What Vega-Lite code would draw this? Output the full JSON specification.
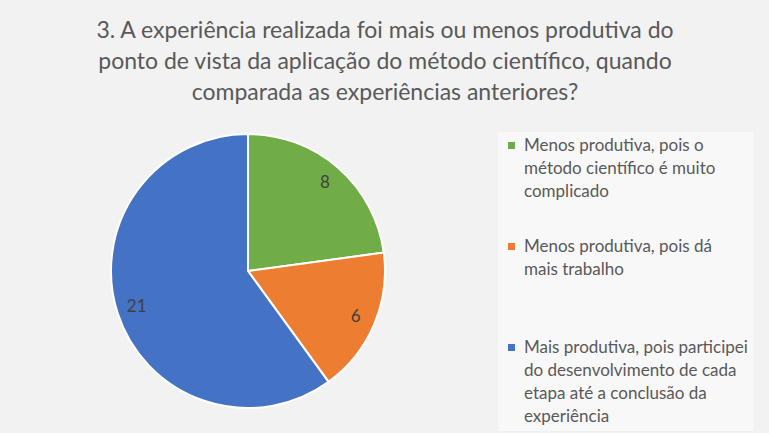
{
  "$schema": "https://vega.github.io/schema/vega-lite/v6.json",
  "width": 276,
  "height": 274,
  "autosize": "none",
  "padding": {"top": 134, "left": 110, "right": 383, "bottom": 25},
  "background": "#f2f2f2",
  "view": {"stroke": null},
  "title": {
    "text": ["3. A experiência realizada foi mais ou menos produtiva do", "ponto de vista da aplicação do método científico, quando", "comparada as experiências anteriores?"],
    "font": "Lato",
    "fontSize": 23,
    "fontWeight": "normal",
    "color": "#595959",
    "anchor": "middle",
    "dx": 137,
    "offset": 25,
    "lineHeight": 31
  },
  "data": {
    "values": [
      {"categoria": "Menos produtiva, pois o\nmétodo científico é muito\ncomplicado", "valor": 8, "ordem": 1},
      {"categoria": "Menos produtiva, pois dá\nmais trabalho", "valor": 6, "ordem": 2},
      {"categoria": "Mais produtiva, pois participei\ndo desenvolvimento de cada\netapa até a conclusão da\nexperiência", "valor": 21, "ordem": 3}
    ]
  },
  "layer": [
    {
      "mark": {"type": "arc", "outerRadius": 137, "stroke": "white", "strokeWidth": 2},
      "encoding": {
        "theta": {"field": "valor", "type": "quantitative", "stack": true},
        "order": {"field": "ordem", "type": "quantitative"},
        "color": {
          "field": "categoria",
          "type": "nominal",
          "sort": null,
          "scale": {
            "domain": ["Menos produtiva, pois o\nmétodo científico é muito\ncomplicado", "Menos produtiva, pois dá\nmais trabalho", "Mais produtiva, pois participei\ndo desenvolvimento de cada\netapa até a conclusão da\nexperiência"],
            "range": ["#70ad47", "#ed7d31", "#4472c4"]
          },
          "legend": {
            "title": null,
            "orient": "none",
            "legendX": 387,
            "legendY": -3,
            "fillColor": "#f8f8f8",
            "strokeColor": "#f0f0f0",
            "padding": 6,
            "symbolType": "square",
            "symbolSize": 49,
            "symbolStrokeWidth": 0,
            "labelFont": "Lato",
            "labelFontSize": 17,
            "labelColor": "#595959",
            "labelLimit": 400,
            "labelOffset": 4,
            "labelExpr": "split(datum.label, '\\n')",
            "gridAlign": "all",
            "rowPadding": 14
          }
        }
      }
    },
    {
      "mark": {"type": "text", "radius": 117, "font": "Lato", "fontSize": 17, "fill": "#404040"},
      "encoding": {
        "theta": {"field": "valor", "type": "quantitative", "stack": true},
        "order": {"field": "ordem", "type": "quantitative"},
        "text": {"field": "valor", "type": "quantitative"}
      }
    }
  ],
  "config": {
    "style": {"guide-label": {"lineHeight": 23}}
  }
}
